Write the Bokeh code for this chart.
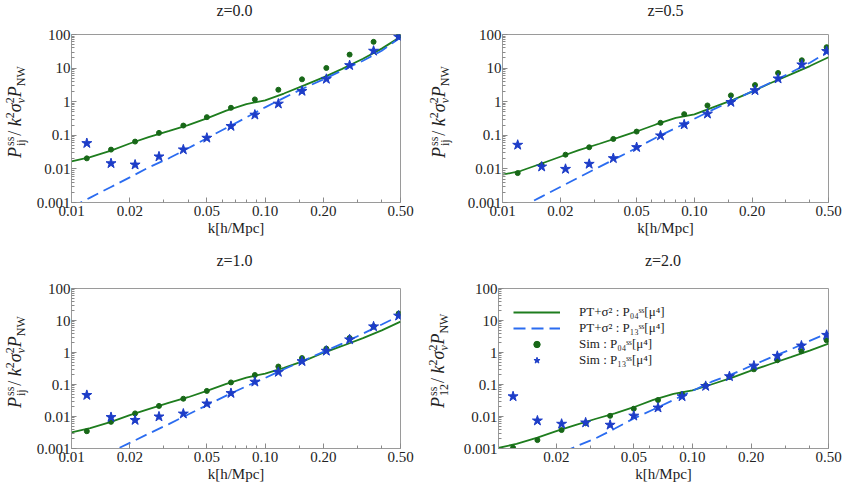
from bokeh.plotting import figure
from bokeh.layouts import column, row
from bokeh.models import FixedTicker, Legend, LegendItem, Range1d, Div
from bokeh.core.properties import value
from bokeh.embed import file_html
from bokeh.resources import INLINE

FONT = "Liberation Serif"

# ---------------- data ----------------
k_sim = [0.012, 0.016, 0.0213, 0.0283, 0.0378, 0.050, 0.0666, 0.0885,
         0.117, 0.155, 0.207, 0.273, 0.363, 0.489]
k_model = [0.01, 0.0125, 0.016, 0.02, 0.025, 0.032, 0.04, 0.05, 0.063,
           0.08, 0.1, 0.125, 0.16, 0.2, 0.25, 0.32, 0.4, 0.5]

# z = 0.0
pt04_z00 = [0.0168, 0.0225, 0.035, 0.057, 0.088, 0.135, 0.20, 0.32, 0.54,
            0.85, 1.1, 1.75, 3.1, 5.3, 9.5, 19, 38, 85]
pt13_z00 = [0.00072, 0.0014, 0.0029, 0.0056, 0.011, 0.021, 0.041, 0.082, 0.165,
            0.34, 0.68, 1.3, 2.6, 4.6, 8.5, 16.5, 33, 82]
sim04_z00 = [0.0206, 0.0375, 0.065, 0.118, 0.195, 0.347, 0.659, 1.17,
             2.27, 4.63, 10.1, 25.2, 60.4, 90]
sim13_z00 = [0.058, 0.0146, 0.0133, 0.0232, 0.0375, 0.0836, 0.187, 0.407,
             0.867, 2.07, 4.73, 12.1, 32.5, 85]

# z = 0.5
pt04_z05 = [0.0067, 0.0088, 0.0145, 0.023, 0.036, 0.056, 0.085, 0.13, 0.21,
            0.33, 0.42, 0.68, 1.15, 2.0, 3.6, 6.6, 11.5, 21]
pt13_z05 = [0.00035, 0.00072, 0.0015, 0.0029, 0.0056, 0.0115, 0.022, 0.042, 0.085,
            0.165, 0.31, 0.58, 1.1, 2.05, 3.7, 7.5, 14.5, 31]
sim04_z05 = [0.0075, 0.013, 0.0265, 0.044, 0.078, 0.129, 0.235, 0.426,
             0.773, 1.54, 3.13, 7.16, 17.1, 41.9]
sim13_z05 = [0.0516, 0.0116, 0.0099, 0.014, 0.0206, 0.044, 0.098, 0.209,
             0.436, 0.97, 2.17, 4.85, 12.7, 31.8]

# z = 1.0
pt04_z10 = [0.0032, 0.0043, 0.0068, 0.011, 0.017, 0.027, 0.04, 0.063, 0.105,
            0.165, 0.22, 0.33, 0.56, 0.98, 1.6, 2.8, 4.9, 9.2]
pt13_z10 = [0.00018, 0.00037, 0.00078, 0.0015, 0.0029, 0.0059, 0.0115, 0.0225, 0.045,
            0.088, 0.16, 0.3, 0.58, 1.05, 1.9, 3.9, 7.5, 14.5]
sim04_z10 = [0.00346, 0.0068, 0.0125, 0.0214, 0.0359, 0.063, 0.116, 0.198,
             0.364, 0.669, 1.32, 2.85, 6.5, 16.5]
sim13_z10 = [0.0465, 0.0095, 0.0077, 0.0099, 0.0122, 0.0252, 0.0534, 0.121,
             0.244, 0.53, 1.12, 2.54, 6.47, 14.0]

# z = 2.0
pt04_z20 = [0.00103, 0.0014, 0.0022, 0.0035, 0.0054, 0.0085, 0.0125, 0.0195, 0.033,
            0.051, 0.066, 0.1, 0.165, 0.27, 0.43, 0.72, 1.15, 1.9]
pt13_z20 = [0.00009, 0.00017, 0.00033, 0.00062, 0.00113, 0.0021, 0.0042, 0.0087, 0.0165,
            0.033, 0.063, 0.12, 0.21, 0.38, 0.68, 1.25, 2.3, 4.1]
sim04_z20 = [0.00105, 0.00183, 0.00377, 0.00614, 0.0105, 0.0175, 0.0327, 0.0498,
             0.093, 0.171, 0.298, 0.573, 1.1, 2.42]
sim13_z20 = [0.0423, 0.0074, 0.00586, 0.00643, 0.00546, 0.0105, 0.0188, 0.0423,
             0.0889, 0.179, 0.385, 0.775, 1.63, 3.51]

titles = ["z=0.0", "z=0.5", "z=1.0", "z=2.0"]
x_ticks = [0.01, 0.02, 0.05, 0.1, 0.2, 0.5]
x_tick_labels = ["0.01", "0.02", "0.05", "0.10", "0.20", "0.50"]
y_ticks = [0.001, 0.01, 0.1, 1, 10, 100]
y_tick_labels = ["0.001", "0.01", "0.1", "1", "10", "100"]
x_label = "k[h/Mpc]"
legend_labels = ["PT+σ² : P₀₄ˢˢ[μ⁴]", "PT+σ² : P₁₃ˢˢ[μ⁴]",
                 "Sim : P₀₄ˢˢ[μ⁴]", "Sim : P₁₃ˢˢ[μ⁴]"]

# ---------------- styles ----------------
GREEN_LINE = "#1e7d1e"
GREEN_DOT = "#186818"
BLUE_LINE = "#2b6cf0"
BLUE_STAR = "#1d3dc8"
TXT = "#222222"

x_minor = [0.03, 0.04, 0.06, 0.07, 0.08, 0.09, 0.15, 0.3, 0.4]
y_minor = [m * 10.0 ** e for e in range(-3, 2) for m in range(2, 10)]


def blank_fig(w, h):
    f = figure(width=w, height=h, x_range=Range1d(0, w), y_range=Range1d(0, h),
               output_backend="svg", toolbar_location=None, min_border=0,
               x_axis_location=None, y_axis_location=None)
    f.xgrid.visible = False
    f.ygrid.visible = False
    f.outline_line_color = None
    return f


def header_fig(w, h, text, cx, cy):
    f = blank_fig(w, h)
    f.text(x=[cx], y=[cy], text=[text], text_font=value(FONT),
           text_font_size=value("16px"), text_color=TXT,
           text_align="center", text_baseline="middle")
    return f


def ylabel_div(w, h, sub, left, top):
    """Vertical axis title P^ss_sub / k^2 sigma_v^2 P_NW as rotated rich text."""
    stack = ("display:inline-block;font-size:12px;line-height:10.5px;"
             "vertical-align:-3.5px;text-align:left;")
    small = "display:inline-block;font-size:12px;line-height:10.5px;"
    html = (
        f'<div style="position:relative;width:{w}px;height:{h}px;overflow:hidden;">'
        f'<div style="position:absolute;left:{left}px;top:{top}px;'
        f'transform-origin:0 0;transform:rotate(-90deg);white-space:nowrap;'
        f"font-family:'{FONT}';font-size:18px;line-height:18px;color:{TXT};\">"
        f'<i>P</i><span style="{stack}margin-left:1px;">ss<br>{sub}</span>'
        f'<span style="margin-left:1px;">/</span>&nbsp;'
        f'<i>k</i><span style="{small}vertical-align:7px;">2</span>'
        f'<i>σ</i><span style="{stack}">2<br><i>v</i></span>'
        f'<i>P</i><span style="{small}vertical-align:-3.5px;">NW</span>'
        f'</div></div>'
    )
    return Div(text=html, width=w, height=h, margin=(0, 0, 0, 0))


def make_panel(pt04, pt13, sim04, sim13, width, height,
               bl, br, bt, bb, xstart, show_001=True, legend=False):
    p = figure(width=width, height=height, x_axis_type="log", y_axis_type="log",
               x_range=Range1d(xstart, 0.5), y_range=Range1d(0.001, 100),
               output_backend="svg", toolbar_location=None,
               min_border_left=bl, min_border_right=br,
               min_border_top=bt, min_border_bottom=bb)
    p.xgrid.visible = False
    p.ygrid.visible = False
    p.outline_line_color = "#9a9a9a"
    p.background_fill_color = "white"
    p.border_fill_color = "white"

    xt = [t for t in x_ticks if show_001 or t > 0.011]
    p.xaxis.ticker = FixedTicker(ticks=xt, minor_ticks=x_minor)
    p.xaxis.major_label_overrides = {t: l for t, l in zip(x_ticks, x_tick_labels) if t in xt}
    p.yaxis.ticker = FixedTicker(ticks=y_ticks, minor_ticks=y_minor)
    p.yaxis.major_label_overrides = dict(zip(y_ticks, y_tick_labels))
    for ax in (p.xaxis, p.yaxis):
        ax.axis_line_color = "#9a9a9a"
        ax.major_tick_line_color = "#8a8a8a"
        ax.minor_tick_line_color = "#8a8a8a"
        ax.major_tick_in = 5
        ax.major_tick_out = 0
        ax.minor_tick_in = 3
        ax.minor_tick_out = 0
        ax.major_label_text_font = FONT
        ax.major_label_text_font_size = "15px"
        ax.major_label_text_color = TXT
    p.xaxis.major_label_standoff = 3
    p.yaxis.major_label_standoff = 1
    p.xaxis.axis_label = x_label
    p.xaxis.axis_label_text_font = FONT
    p.xaxis.axis_label_text_font_size = "15px"
    p.xaxis.axis_label_text_font_style = "normal"
    p.xaxis.axis_label_text_color = TXT
    p.xaxis.axis_label_standoff = 1

    r1 = p.line(k_model, pt04, line_color=GREEN_LINE, line_width=1.8)
    r2 = p.line(k_model, pt13, line_color=BLUE_LINE, line_width=1.8, line_dash="12 6")
    r3 = p.scatter(k_sim, sim04, marker="circle", size=5, color=GREEN_DOT)
    r4 = p.scatter(k_sim, sim13, marker="star", size=10.5, color=BLUE_STAR)

    if legend:
        items = [LegendItem(label=lab, renderers=[r]) for lab, r in
                 zip(legend_labels, [r1, r2, r3, r4])]
        lg = Legend(items=items, location=(15, 80), glyph_width=47, glyph_height=16,
                    label_height=16, spacing=0, padding=0, margin=0,
                    label_standoff=19, label_text_font=FONT,
                    label_text_font_size="13px", label_text_color=TXT,
                    background_fill_alpha=0, border_line_color=None)
        p.add_layout(lg)
    return p


# top row: header 20px, panels 225px (frame 168)
h1 = header_fig(420, 20, titles[0], 234, 10)
h2 = header_fig(422, 20, titles[1], 245, 10)
d1 = ylabel_div(33, 225, "ij", 5, 138)
f1 = make_panel(pt04_z00, pt13_z00, sim04_z00, sim13_z00, 387, 225, 35, 20, 14, 43, 0.01)
d2 = ylabel_div(42, 225, "ij", 9, 138)
f2 = make_panel(pt04_z05, pt13_z05, sim04_z05, sim13_z05, 380, 225, 40, 14, 14, 43, 0.01)

# bottom row: header 27px, panels 212px (frame 164)
h3 = header_fig(420, 27, titles[2], 234, 12)
h4 = header_fig(422, 27, titles[3], 242.5, 12)
d3 = ylabel_div(33, 212, "ij", 5, 136)
f3 = make_panel(pt04_z10, pt13_z10, sim04_z10, sim13_z10, 387, 212, 35, 20, 16, 32, 0.01)
d4 = ylabel_div(40, 212, "12", 8, 136)
f4 = make_panel(pt04_z20, pt13_z20, sim04_z20, sim13_z20, 382, 212, 37, 14, 16, 32, 0.0101,
                show_001=False, legend=True)

layout = column(row(h1, h2), row(d1, f1, d2, f2),
                row(h3, h4), row(d3, f3, d4, f4))

open("out.html", "w").write(file_html(layout, INLINE))
